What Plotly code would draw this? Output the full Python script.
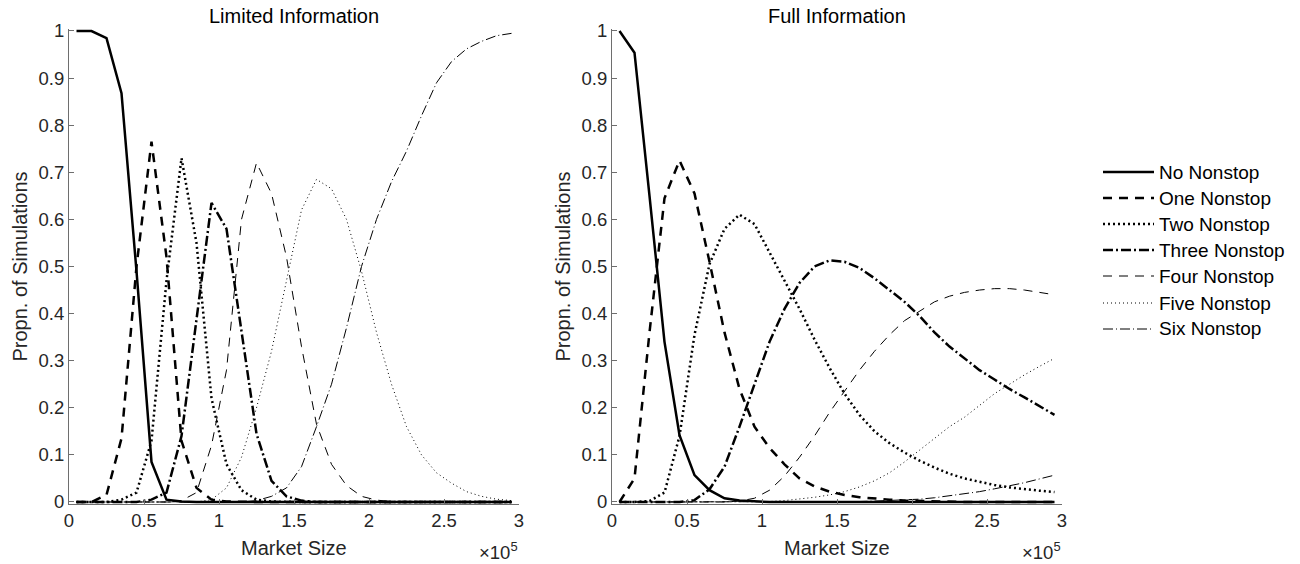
import plotly.graph_objects as go

# Market size grid (passengers); axis labels are shown in units of 1e5
market_size = [5000, 15000, 25000, 35000, 45000, 55000, 65000, 75000, 85000, 95000,
               105000, 115000, 125000, 135000, 145000, 155000, 165000, 175000, 185000, 195000,
               205000, 215000, 225000, 235000, 245000, 255000, 265000, 275000, 285000, 295000]

# Limited information: share of simulations with each number of nonstop carriers
lim_none = [1.0, 1.0, 0.985, 0.868, 0.49, 0.085, 0.005, 0.001, 0, 0,
            0, 0, 0, 0, 0, 0, 0, 0, 0, 0,
            0, 0, 0, 0, 0, 0, 0, 0, 0, 0]
lim_one = [0, 0, 0.015, 0.135, 0.50, 0.765, 0.52, 0.13, 0.03, 0.005,
           0.001, 0, 0, 0, 0, 0, 0, 0, 0, 0,
           0, 0, 0, 0, 0, 0, 0, 0, 0, 0]
lim_two = [0, 0, 0, 0.005, 0.02, 0.13, 0.47, 0.73, 0.55, 0.22,
           0.08, 0.025, 0.005, 0.001, 0, 0, 0, 0, 0, 0,
           0, 0, 0, 0, 0, 0, 0, 0, 0, 0]
lim_three = [0, 0, 0, 0, 0, 0.005, 0.02, 0.14, 0.39, 0.635,
             0.58, 0.36, 0.145, 0.045, 0.012, 0.003, 0, 0, 0, 0,
             0, 0, 0, 0, 0, 0, 0, 0, 0, 0]
lim_four = [0, 0, 0, 0, 0, 0, 0, 0.003, 0.02, 0.12,
            0.28, 0.60, 0.72, 0.655, 0.52, 0.33, 0.165, 0.08, 0.035, 0.012,
            0.004, 0.001, 0, 0, 0, 0, 0, 0, 0, 0]
lim_five = [0, 0, 0, 0, 0, 0, 0, 0, 0, 0.005,
            0.03, 0.095, 0.20, 0.32, 0.47, 0.62, 0.685, 0.665, 0.60, 0.49,
            0.36, 0.25, 0.16, 0.10, 0.062, 0.04, 0.022, 0.012, 0.006, 0.003]
lim_six = [0, 0, 0, 0, 0, 0, 0, 0, 0, 0,
           0, 0, 0.003, 0.012, 0.03, 0.075, 0.16, 0.25, 0.37, 0.50,
           0.60, 0.68, 0.745, 0.82, 0.89, 0.935, 0.962, 0.978, 0.99, 0.995]

# Full information
full_none = [1.0, 0.954, 0.65, 0.34, 0.142, 0.057, 0.025, 0.008, 0.003, 0.001,
             0, 0, 0, 0, 0, 0, 0, 0, 0, 0,
             0, 0, 0, 0, 0, 0, 0, 0, 0, 0]
full_one = [0, 0.05, 0.36, 0.645, 0.725, 0.655, 0.51, 0.36, 0.24, 0.16,
            0.115, 0.08, 0.05, 0.033, 0.022, 0.015, 0.01, 0.007, 0.005, 0.003,
            0.002, 0.001, 0, 0, 0, 0, 0, 0, 0, 0]
full_two = [0, 0, 0.002, 0.02, 0.14, 0.355, 0.505, 0.58, 0.61, 0.59,
            0.53, 0.47, 0.41, 0.345, 0.285, 0.23, 0.185, 0.15, 0.125, 0.105,
            0.088, 0.073, 0.06, 0.05, 0.043, 0.036, 0.031, 0.027, 0.024, 0.021]
full_three = [0, 0, 0, 0, 0, 0.004, 0.027, 0.075, 0.16, 0.25,
              0.34, 0.41, 0.465, 0.50, 0.513, 0.51, 0.497, 0.475, 0.45, 0.425,
              0.395, 0.36, 0.33, 0.305, 0.28, 0.26, 0.24, 0.222, 0.203, 0.185]
full_four = [0, 0, 0, 0, 0, 0, 0, 0, 0.002, 0.008,
             0.025, 0.055, 0.095, 0.14, 0.19, 0.235, 0.28, 0.32, 0.355, 0.385,
             0.405, 0.425, 0.437, 0.445, 0.45, 0.453, 0.453, 0.45, 0.445, 0.44]
full_five = [0, 0, 0, 0, 0, 0, 0, 0, 0, 0,
             0.001, 0.003, 0.006, 0.01, 0.015, 0.022, 0.032, 0.045, 0.062, 0.085,
             0.11, 0.135, 0.16, 0.18, 0.205, 0.23, 0.25, 0.27, 0.288, 0.305]
full_six = [0, 0, 0, 0, 0, 0, 0, 0, 0, 0,
            0, 0, 0, 0, 0, 0.001, 0.001, 0.002, 0.003, 0.004,
            0.006, 0.009, 0.013, 0.017, 0.022, 0.028, 0.034, 0.041, 0.049, 0.057]

series_names = ["No Nonstop", "One Nonstop", "Two Nonstop", "Three Nonstop",
                "Four Nonstop", "Five Nonstop", "Six Nonstop"]
x_tick_vals = [0, 50000, 100000, 150000, 200000, 250000, 300000]
x_tick_text = ["0", "0.5", "1", "1.5", "2", "2.5", "3"]
y_tick_vals = [0, 0.1, 0.2, 0.3, 0.4, 0.5, 0.6, 0.7, 0.8, 0.9, 1]
y_tick_text = ["0", "0.1", "0.2", "0.3", "0.4", "0.5", "0.6", "0.7", "0.8", "0.9", "1"]

# line width / dash pattern per series
line_styles = [
    (2.5, "solid"),
    (2.5, "9px,7px"),
    (2.5, "2px,3px"),
    (2.5, "10px,3px,2px,3px"),
    (1.0, "9px,7px"),
    (1.0, "1px,3px"),
    (1.0, "10px,3px,1px,3px"),
]

W, H = 1300, 564
FONT = "Liberation Sans, Arial, Helvetica, sans-serif"
AX_COLOR = "#262626"
TICK_SIZE = 18.5
LABEL_SIZE = 20
LEGEND_SIZE = 19


def px_x(p):
    return p / W


def px_y(p):
    return (H - p) / H


# plot areas in pixels
left_x = (69, 519)
right_x = (612, 1062)
y_top, y_bot = 31, 502
y_range = [-0.004, 1.004]
per_unit = (y_bot - y_top)
dom_bot = y_bot + (0 - y_range[0]) * per_unit
dom_top = y_top - (y_range[1] - 1) * per_unit

fig = go.Figure()

panels = [
    ("x", "y", [lim_none, lim_one, lim_two, lim_three, lim_four, lim_five, lim_six]),
    ("x2", "y2", [full_none, full_one, full_two, full_three, full_four, full_five, full_six]),
]
for xa, ya, data in panels:
    for name, vals, (w, dash) in zip(series_names, data, line_styles):
        fig.add_trace(go.Scatter(
            x=market_size, y=vals, mode="lines", name=name,
            xaxis=xa, yaxis=ya, showlegend=False,
            line=dict(color="black", width=w, dash=dash),
        ))

axis_common = dict(
    showgrid=False, zeroline=False, showline=True, linecolor="#6e6e6e", linewidth=1,
    ticks="inside", ticklen=5, tickcolor="#6e6e6e", tickwidth=1,
    tickfont=dict(family=FONT, size=TICK_SIZE, color=AX_COLOR), mirror=False,
)

fig.update_layout(
    width=W, height=H, template="none",
    paper_bgcolor="white", plot_bgcolor="white",
    margin=dict(l=0, r=0, t=0, b=0),
    showlegend=False,
    xaxis=dict(domain=[px_x(left_x[0]), px_x(left_x[1])], range=[0, 300000],
               tickvals=x_tick_vals, ticktext=x_tick_text, anchor="y", **axis_common),
    yaxis=dict(domain=[px_y(dom_bot), px_y(dom_top)], range=y_range,
               tickvals=y_tick_vals, ticktext=y_tick_text, anchor="x", **axis_common),
    xaxis2=dict(domain=[px_x(right_x[0]), px_x(right_x[1])], range=[0, 300000],
                tickvals=x_tick_vals, ticktext=x_tick_text, anchor="y2", **axis_common),
    yaxis2=dict(domain=[px_y(dom_bot), px_y(dom_top)], range=y_range,
                tickvals=y_tick_vals, ticktext=y_tick_text, anchor="x2", **axis_common),
)

annotations = []
for (x0, x1), title in [(left_x, "Limited Information"), (right_x, "Full Information")]:
    cx = (x0 + x1) / 2
    annotations.append(dict(text=title, x=px_x(cx), y=px_y(16), xref="paper", yref="paper",
                            xanchor="center", yanchor="middle", showarrow=False,
                            font=dict(family=FONT, size=LABEL_SIZE, color="black")))
    annotations.append(dict(text="Market Size", x=px_x(cx), y=px_y(548), xref="paper", yref="paper",
                            xanchor="center", yanchor="middle", showarrow=False,
                            font=dict(family=FONT, size=LABEL_SIZE, color=AX_COLOR)))
    annotations.append(dict(text="\u00d710<sup>5</sup>", x=px_x(x1 + 1), y=px_y(551),
                            xref="paper", yref="paper", xanchor="right", yanchor="middle",
                            showarrow=False, font=dict(family=FONT, size=TICK_SIZE, color=AX_COLOR)))
    annotations.append(dict(text="Propn. of Simulations", x=px_x(x0 - 49), y=px_y((y_top + y_bot) / 2),
                            xref="paper", yref="paper", xanchor="center", yanchor="middle",
                            textangle=-90, showarrow=False,
                            font=dict(family=FONT, size=LABEL_SIZE, color=AX_COLOR)))

# legend: sample line + label per series
leg_x0, leg_x1, leg_text_x = 1103, 1154, 1157
leg_rows = [172, 198, 224, 250, 276, 303, 329]
shapes = []
for name, (w, dash), ry in zip(series_names, line_styles, leg_rows):
    shapes.append(dict(type="line", xref="paper", yref="paper",
                       x0=px_x(leg_x0), x1=px_x(leg_x1), y0=px_y(ry), y1=px_y(ry),
                       line=dict(color="black", width=w, dash=dash)))
    annotations.append(dict(text=name, x=px_x(leg_text_x), y=px_y(ry), xref="paper", yref="paper",
                            xanchor="left", yanchor="middle", showarrow=False,
                            font=dict(family=FONT, size=LEGEND_SIZE, color="black")))

fig.update_layout(annotations=annotations, shapes=shapes)

fig.write_html("out.html")
